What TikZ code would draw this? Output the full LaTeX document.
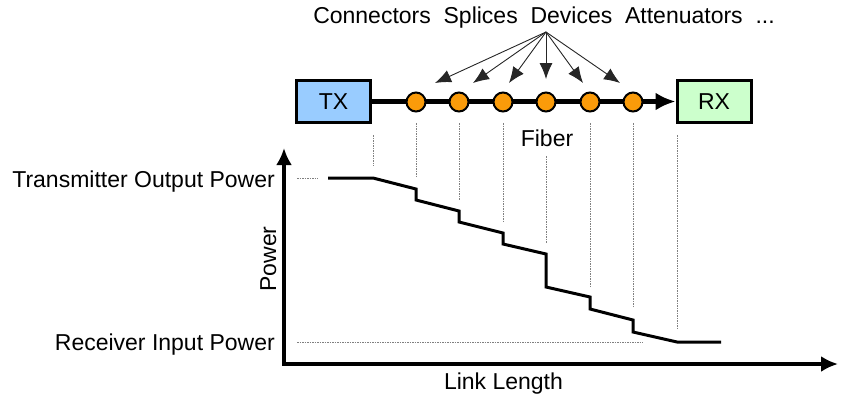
\documentclass[tikz,border=0pt]{standalone}
\usepackage{fontspec}
\setmainfont{Liberation Sans}
\usetikzlibrary{arrows.meta}

\definecolor{txblue}{RGB}{153,204,255}
\definecolor{rxgreen}{RGB}{204,255,204}
\definecolor{splice}{RGB}{250,155,10}

\begin{document}
\begin{tikzpicture}[x=1pt, y=-1pt,
    every node/.style={font=\fontsize{23}{27}\selectfont, inner sep=0pt},
    endbox/.style={draw, line width=3pt, minimum width=74pt, minimum height=42pt},
    joint/.style={circle, draw, line width=2pt, fill=splice, minimum size=19pt},
    guide/.style={gray, line width=0.6pt, dash pattern=on 1.5pt off 1pt},
    pointer/.style={-{Latex[length=16pt,width=13pt]}, black!85, line width=0.9pt}]
    \useasboundingbox (0,0) rectangle (843,405);

    % Link: transmitter, fiber with splices, receiver
    \node[endbox, fill=txblue] (tx) at (333.5,101.5) {TX};
    \node[endbox, fill=rxgreen] (rx) at (714,101.5) {RX};
    \draw[line width=4.5pt, -{Latex[length=20pt,width=18pt]}] (tx) -- (rx);
    \foreach \i/\xp in {1/416, 2/459, 3/503, 4/546, 5/590, 6/633}
        \node[joint] (j\i) at (\xp,102) {};

    \node[anchor=base] (parts) at (544,23)
        {Connectors\ \ Splices\ \ Devices\ \ Attenuators\ \ ...};
    \coordinate (src) at (546,32);
    \foreach \i/\xp/\yp in {1/435/83, 2/473/83, 3/509/83, 4/546/79, 5/583/83, 6/620/83} {
        \coordinate (tip\i) at (\xp,\yp);
        \draw[pointer] (src) -- (tip\i);
    }
    \node[anchor=base] (fiber) at (547,146) {Fiber};

    % Axes
    \draw[line width=3.5pt, {Latex[length=17pt,width=16pt]}-{Latex[length=17pt,width=16pt]}]
        (284,148) -- (284,364) -- (838,364);
    \node[rotate=90, anchor=base] (power) at (276,259) {Power};
    \node[anchor=base] (length) at (503.5,389) {Link Length};
    \node[anchor=base east] (txpow) at (275,187) {Transmitter Output Power};
    \node[anchor=base east] (rxpow) at (275,350) {Receiver Input Power};
    \draw[guide] (297,178) -- (318,178);
    \draw[guide] (297,342) -- (643,342);

    % Guides from each element down to the power curve
    \foreach \xp/\top/\bot in {373/135/166, 416/123/177, 459/123/200, 503/123/222,
                               546/156/243, 590/123/288, 633/123/308, 677/135/329}
        \draw[guide] (\xp,\top) -- (\xp,\bot);

    % Power along the link: fiber slope plus a drop at each element
    \draw[line width=3pt]
        (328,178) -- (373,178) -- (416,189) -- (416,200) -- (459,211) -- (459,222)
        -- (503,233) -- (503,244) -- (546,254) -- (546,287) -- (590,297) -- (590,309)
        -- (633,320) -- (633,332) -- (677,342) -- (721,342);
\end{tikzpicture}
\end{document}
